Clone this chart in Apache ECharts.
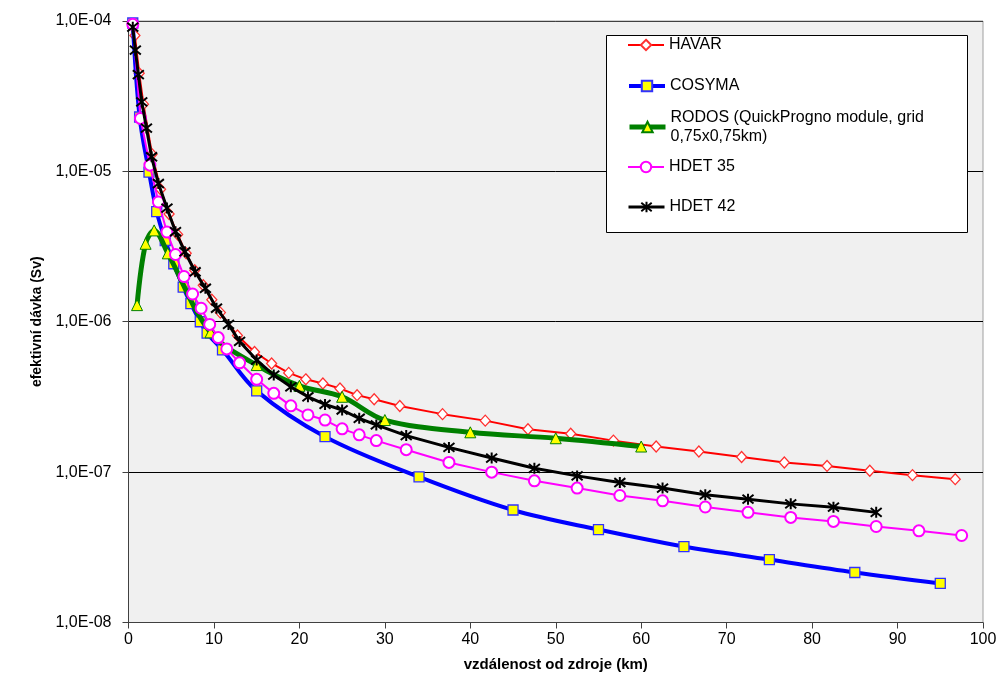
<!DOCTYPE html>
<html><head><meta charset="utf-8">
<script src="https://cdn.jsdelivr.net/npm/echarts@6/dist/echarts.min.js"></script>
<style>html,body{margin:0;padding:0;background:#fff}#c{width:1000px;height:682px}</style>
</head><body><div id="c"></div>
<script>
// ---- data (distance km, effective dose Sv) ----
const seriesNames = ['HAVAR', 'COSYMA', 'RODOS (QuickProgno module, grid\n0,75x0,75km)', 'HDET 35', 'HDET 42'];

const havarX = [0.75, 1.25, 1.75, 2.75, 3.75, 4.75, 5.75, 6.75, 7.75, 8.75, 9.75, 10.75,
  12.75, 14.75, 16.75, 18.75, 20.75, 22.75, 24.75, 26.75, 28.75,
  31.75, 36.75, 41.75, 46.75, 51.75, 56.75, 61.75, 66.75, 71.75, 76.75, 81.75, 86.75, 91.75, 96.75];
const havarY = [8e-5, 4.5e-5, 2.8e-5, 1.3e-5, 7.6e-6, 5.2e-6, 3.8e-6, 2.85e-6, 2.2e-6, 1.75e-6, 1.4e-6, 1.15e-6,
  8.1e-7, 6.3e-7, 5.28e-7, 4.57e-7, 4.14e-7, 3.89e-7, 3.6e-7, 3.25e-7, 3.05e-7,
  2.75e-7, 2.43e-7, 2.2e-7, 1.93e-7, 1.8e-7, 1.62e-7, 1.48e-7, 1.37e-7, 1.26e-7, 1.16e-7, 1.1e-7, 1.02e-7, 9.55e-8, 8.98e-8];

const cosymaX = [0.5, 1.3, 2.4, 3.3, 4.3, 5.3, 6.4, 7.3, 8.4, 9.2, 11, 15, 23, 34, 45, 55, 65, 75, 85, 95];
const cosymaY = [9.7e-5, 2.3e-5, 9.9e-6, 5.4e-6, 3.47e-6, 2.43e-6, 1.7e-6, 1.32e-6, 1.0e-6, 8.4e-7, 6.5e-7,
  3.47e-7, 1.72e-7, 9.3e-8, 5.6e-8, 4.15e-8, 3.2e-8, 2.62e-8, 2.15e-8, 1.82e-8];

const rodosX = [1, 2, 3, 4.6, 9.6, 15, 20, 25, 30, 40, 50, 60];
const rodosY = [1.29e-6, 3.3e-6, 4.05e-6, 2.85e-6, 8.5e-7, 5.15e-7, 3.75e-7, 3.17e-7, 2.22e-7, 1.84e-7, 1.68e-7, 1.48e-7];

const hdet35X = [0.5, 1.4, 2.5, 3.5, 4.5, 5.5, 6.5, 7.5, 8.5, 9.5, 10.5, 11.5, 13, 15, 17, 19, 21, 23, 25, 27, 29,
  32.5, 37.5, 42.5, 47.5, 52.5, 57.5, 62.5, 67.5, 72.5, 77.5, 82.5, 87.5, 92.5, 97.5];
const hdet35Y = [9.5e-5, 2.25e-5, 1.1e-5, 6.26e-6, 3.95e-6, 2.8e-6, 2.0e-6, 1.53e-6, 1.23e-6, 9.6e-7, 7.85e-7, 6.6e-7,
  5.33e-7, 4.14e-7, 3.34e-7, 2.76e-7, 2.4e-7, 2.22e-7, 1.94e-7, 1.77e-7, 1.62e-7,
  1.41e-7, 1.16e-7, 1.0e-7, 8.75e-8, 7.83e-8, 6.99e-8, 6.44e-8, 5.86e-8, 5.4e-8, 5.0e-8, 4.7e-8, 4.35e-8, 4.07e-8, 3.79e-8];

const hdet42X = [0.5, 0.8, 1.15, 1.55, 2.1, 2.7, 3.5, 4.5, 5.5, 6.6, 7.8, 9.0, 10.3, 11.7, 13, 15, 17, 19, 21, 23, 25, 27, 29,
  32.5, 37.5, 42.5, 47.5, 52.5, 57.5, 62.5, 67.5, 72.5, 77.5, 82.5, 87.5];
const hdet42Y = [9.1e-5, 6.4e-5, 4.4e-5, 2.9e-5, 1.94e-5, 1.25e-5, 8.3e-6, 5.7e-6, 3.97e-6, 2.92e-6, 2.15e-6, 1.67e-6,
  1.23e-6, 9.6e-7, 7.4e-7, 5.56e-7, 4.42e-7, 3.69e-7, 3.17e-7, 2.82e-7, 2.59e-7, 2.28e-7, 2.06e-7,
  1.75e-7, 1.46e-7, 1.24e-7, 1.06e-7, 9.44e-8, 8.53e-8, 7.83e-8, 7.07e-8, 6.61e-8, 6.15e-8, 5.85e-8, 5.4e-8];

const yTickExp = [-8, -7, -6, -5, -4];
const yTickLabels = ['1,0E-08', '1,0E-07', '1,0E-06', '1,0E-05', '1,0E-04'];

const xAxisName = 'vzdálenost od zdroje (km)';
const yAxisName = 'efektivní dávka (Sv)';

// ---- chart ----
const zip = (xs, ys) => xs.map((x, i) => [x, ys[i]]);
const FONT = '"Liberation Sans", Arial, sans-serif';
const starPath = 'path://M1,1L9,9M9,1L1,9M5,0L5,10';

const chart = echarts.init(document.getElementById('c'), null, {renderer: 'canvas'});

const seriesStyles = [
  {symbol: 'diamond', symbolSize: [10, 11], line: {color: '#ff0000', width: 2}, item: {color: '#ffffff', borderColor: '#ff3030', borderWidth: 1.3}, smooth: false},
  {symbol: 'rect', symbolSize: 10, line: {color: '#0000ff', width: 4}, item: {color: '#ffff00', borderColor: '#3030ff', borderWidth: 1.3}, smooth: 0.35},
  {symbol: 'triangle', symbolSize: 11, line: {color: '#008000', width: 5}, item: {color: '#ffff00', borderColor: '#008000', borderWidth: 1}, smooth: 0.35},
  {symbol: 'circle', symbolSize: 11, line: {color: '#ff00ff', width: 2}, item: {color: '#ffffff', borderColor: '#ff00ff', borderWidth: 2}, smooth: false},
  {symbol: starPath, symbolSize: 11, line: {color: '#000000', width: 3}, item: {color: 'none', borderColor: '#000000', borderWidth: 2}, smooth: false}
];
const seriesData = [zip(havarX, havarY), zip(cosymaX, cosymaY), zip(rodosX, rodosY), zip(hdet35X, hdet35Y), zip(hdet42X, hdet42Y)];

const legendCenters = [45, 86, 127, 167, 207];
const legends = seriesNames.map((n, i) => {
  const multi = n.indexOf('\n') >= 0;
  return {
    data: [n], left: 627, top: multi ? legendCenters[i] - 28.5 : legendCenters[i] - 10,
    orient: 'vertical', itemWidth: 36, itemHeight: 13, padding: 0, selectedMode: false, z: 20,
    lineStyle: {width: seriesStyles[i].line.width, color: seriesStyles[i].line.color},
    textStyle: multi
      ? {fontFamily: FONT, fontSize: 16, color: '#000', lineHeight: 19, padding: [19, 0, 0, 0]}
      : {fontFamily: FONT, fontSize: 16, color: '#000', lineHeight: 20}
  };
});

const option = {
  animation: false,
  backgroundColor: '#ffffff',
  grid: {left: 128.5, right: 17, top: 21, bottom: 59.5, show: true, backgroundColor: '#f0f0f0', borderColor: '#a0a0a0', borderWidth: 1},
  graphic: [{type: 'rect', z: 10, shape: {x: 606.5, y: 35.5, width: 361, height: 197}, style: {fill: '#ffffff', stroke: '#000000', lineWidth: 1}}],
  legend: legends,
  xAxis: {
    type: 'value', min: 0, max: 100, interval: 10,
    name: xAxisName, nameLocation: 'middle', nameGap: 35,
    nameTextStyle: {fontFamily: FONT, fontSize: 15, fontWeight: 'bold', color: '#000'},
    axisLine: {show: true, lineStyle: {color: '#404040', width: 1}},
    axisTick: {show: true, inside: false, length: 6, lineStyle: {color: '#404040'}},
    axisLabel: {fontFamily: FONT, fontSize: 16, color: '#000', margin: 9},
    splitLine: {show: false}
  },
  yAxis: {
    type: 'log', logBase: 10, min: 1e-8, max: 1e-4,
    name: yAxisName, nameLocation: 'middle', nameGap: 65,
    nameTextStyle: {fontFamily: FONT, fontSize: 14, fontWeight: 'bold', color: '#000'},
    axisLine: {show: true, lineStyle: {color: '#404040', width: 1}},
    axisTick: {show: true, inside: false, length: 6, lineStyle: {color: '#404040'}},
    axisLabel: {
      fontFamily: FONT, fontSize: 16, color: '#000', margin: 17,
      formatter: v => {
        const e = Math.round(Math.log10(v));
        const i = yTickExp.indexOf(e);
        return i >= 0 ? yTickLabels[i] : '';
      }
    },
    splitLine: {show: true, lineStyle: {color: ['#404040', '#000000', '#000000', '#000000', '#a0a0a0'], width: 1}},
    minorTick: {show: false}
  },
  series: seriesNames.map((n, i) => ({
    name: n, type: 'line', data: seriesData[i],
    symbol: seriesStyles[i].symbol, symbolSize: seriesStyles[i].symbolSize,
    showSymbol: true, showAllSymbol: true, smooth: seriesStyles[i].smooth,
    lineStyle: seriesStyles[i].line, itemStyle: seriesStyles[i].item,
    emphasis: {disabled: true}, z: 2 + i
  }))
};
chart.setOption(option);
</script></body></html>
